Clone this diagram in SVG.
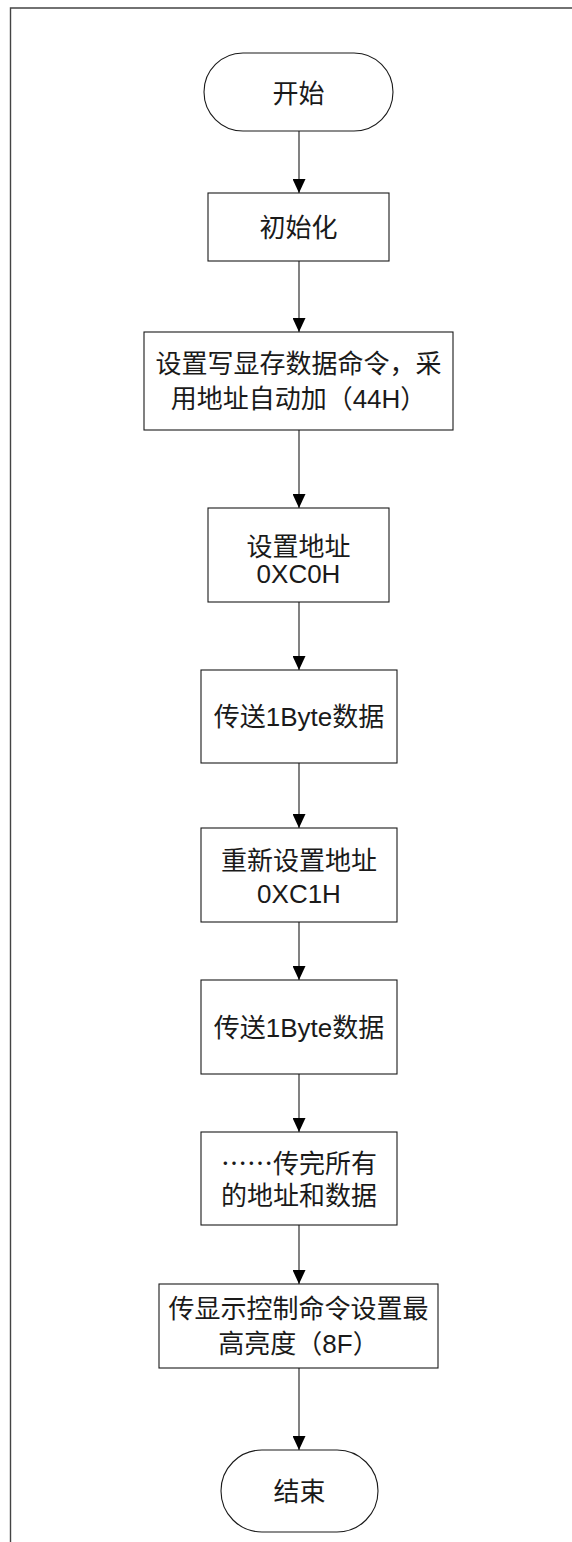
<svg xmlns="http://www.w3.org/2000/svg" width="572" height="1542" viewBox="0 0 572 1542">
<style>
.shape{fill:#ffffff;stroke:#1a1a1a;stroke-width:1.1}
.conn{fill:none;stroke:#1a1a1a;stroke-width:1.1}
.frame{fill:none;stroke:#444444;stroke-width:1.4}
.t{font-family:"Liberation Sans","Noto Sans CJK SC",sans-serif;font-size:26px;fill:#1a1a1a;text-anchor:middle}
.cjk{font-family:"Noto Sans CJK SC",sans-serif}
</style>
<defs>
<marker id="arrow" viewBox="0 0 14 13" refX="14" refY="6.5" markerWidth="14" markerHeight="13" markerUnits="userSpaceOnUse" orient="auto">
<path d="M0,0 L14,6.5 L0,13 Z" fill="#000000"/>
</marker>
</defs>
<rect width="572" height="1542" fill="#ffffff"/>
<g id="frame">
<path class="frame" d="M572,8 L10.5,8 L10.5,1542"/>
</g>
<g id="connectors">
<line class="conn" x1="299" y1="131" x2="299" y2="193" marker-end="url(#arrow)"/>
<line class="conn" x1="299" y1="261" x2="299" y2="332" marker-end="url(#arrow)"/>
<line class="conn" x1="299" y1="430" x2="299" y2="508" marker-end="url(#arrow)"/>
<line class="conn" x1="299" y1="602" x2="299" y2="670" marker-end="url(#arrow)"/>
<line class="conn" x1="299" y1="763" x2="299" y2="828" marker-end="url(#arrow)"/>
<line class="conn" x1="299" y1="922" x2="299" y2="980" marker-end="url(#arrow)"/>
<line class="conn" x1="299" y1="1074" x2="299" y2="1132" marker-end="url(#arrow)"/>
<line class="conn" x1="299" y1="1225" x2="299" y2="1284" marker-end="url(#arrow)"/>
<line class="conn" x1="299" y1="1368" x2="299" y2="1450" marker-end="url(#arrow)"/>
</g>
<g id="start">
<rect class="shape" x="204" y="53" width="189" height="78" rx="39" ry="39"/>
<text class="t" x="298.5" y="103">开始</text>
</g>
<g id="init">
<rect class="shape" x="208" y="193" width="181" height="68"/>
<text class="t" x="298.5" y="237">初始化</text>
</g>
<g id="write-cmd">
<rect class="shape" x="144" y="332" width="309" height="98"/>
<text class="t" x="298.5" y="373">设置写显存数据命令，采</text>
<text class="t" x="298.5" y="408">用地址自动加（44H）</text>
</g>
<g id="set-addr">
<rect class="shape" x="208" y="508" width="181" height="94"/>
<text class="t" x="298.5" y="556">设置地址</text>
<text class="t" x="298.5" y="583">0XC0H</text>
</g>
<g id="send1">
<rect class="shape" x="201" y="670" width="196" height="93"/>
<text class="t" x="299" y="726">传送1Byte数据</text>
</g>
<g id="reset-addr">
<rect class="shape" x="201" y="828" width="196" height="94"/>
<text class="t" x="299" y="870">重新设置地址</text>
<text class="t" x="299" y="903">0XC1H</text>
</g>
<g id="send2">
<rect class="shape" x="201" y="980" width="196" height="94"/>
<text class="t" x="299" y="1037">传送1Byte数据</text>
</g>
<g id="send-all">
<rect class="shape" x="201" y="1132" width="196" height="93"/>
<text class="t cjk" x="299" y="1173">……传完所有</text>
<text class="t" x="299" y="1205">的地址和数据</text>
</g>
<g id="brightness">
<rect class="shape" x="159" y="1284" width="279" height="84"/>
<text class="t" x="298.5" y="1318">传显示控制命令设置最</text>
<text class="t" x="298.5" y="1353">高亮度（8F）</text>
</g>
<g id="end">
<rect class="shape" x="221" y="1450" width="157" height="82" rx="41" ry="41"/>
<text class="t" x="299.5" y="1501">结束</text>
</g>
</svg>
